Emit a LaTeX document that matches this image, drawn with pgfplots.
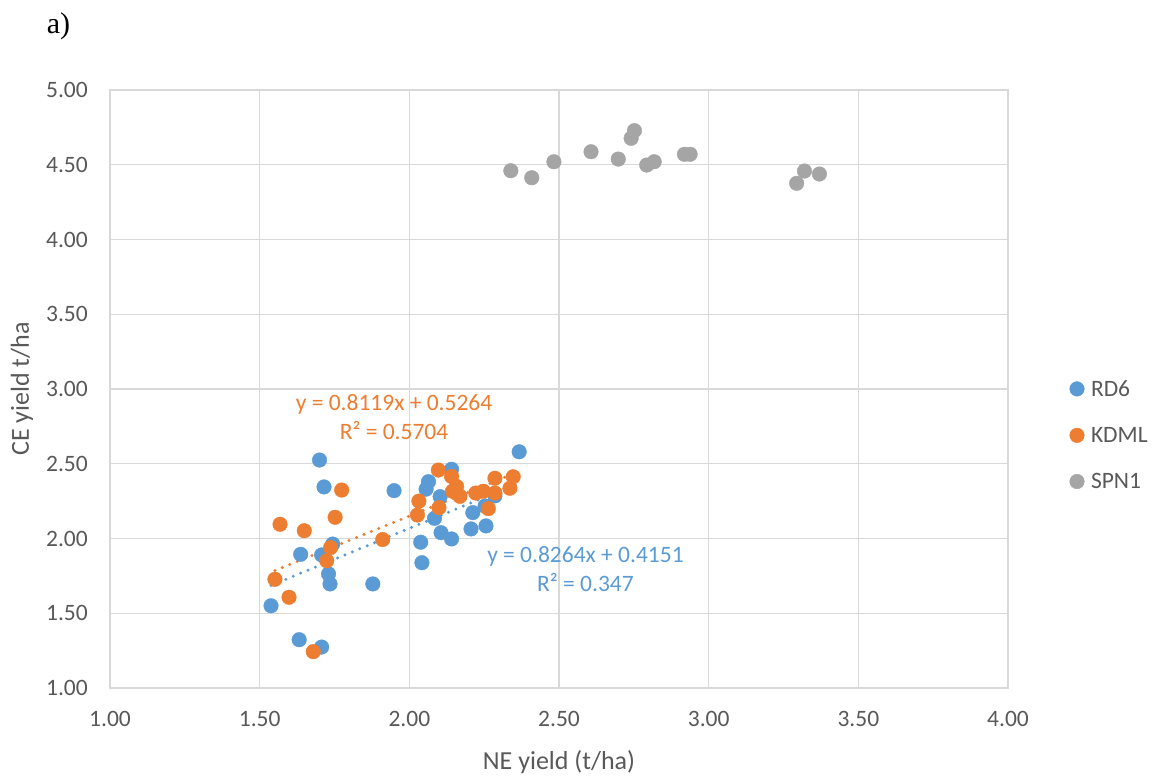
\documentclass[border=0pt]{standalone}
\usepackage{fontspec}
\setmainfont{Carlito}
\newfontfamily\timesfont{Liberation Serif}
\usepackage{pgfplots}
\pgfplotsset{compat=1.18}
\definecolor{cblue}{HTML}{5B9BD5}
\definecolor{corange}{HTML}{ED7D31}
\definecolor{cgray}{HTML}{A5A5A5}
\definecolor{ctext}{HTML}{595959}
\definecolor{cgrid}{HTML}{D9D9D9}
\begin{document}
\begin{tikzpicture}[x=1pt,y=1pt]
\path[use as bounding box] (-110,-88) rectangle (1046,688);
\begin{axis}[
  at={(0,0)}, anchor=south west,
  scale only axis, width=898pt, height=598pt,
  xmin=1, xmax=4, ymin=1, ymax=5,
  xtick={1,1.5,...,4}, ytick={1,1.5,...,5},
  grid=major, major grid style={cgrid, line width=1.2pt},
  axis line style={cgrid, line width=1.2pt},
  major tick length=0pt,
  tick label style={font=\fontsize{23.5}{28}\selectfont, text=ctext, inner sep=0pt},
  /pgf/number format/assume math mode=true,
  /pgf/number format/.cd, fixed, fixed zerofill, precision=2, /pgfplots/.cd,
  xticklabel style={anchor=north, yshift=-23pt},
  yticklabel style={anchor=east, xshift=-22pt},
  xlabel={NE yield (t/ha)}, ylabel={CE yield t/ha},
  every axis x label/.style={at={(axis description cs:0.5,-0.1237)}, anchor=center, font=\fontsize{26}{30}\selectfont, text=ctext},
  every axis y label/.style={at={(axis description cs:-0.098,0.5)}, rotate=90, anchor=center, font=\fontsize{26}{30}\selectfont, text=ctext},
  legend style={at={(axis description cs:1.0685,0.4230)}, anchor=west, draw=none, fill=none, inner sep=0pt,
    row sep=29.5pt, font=\fontsize{23.5}{28}\selectfont, text=ctext, nodes={inner sep=0pt}},
  legend cell align=left,
  legend image code/.code={\path[draw=none,fill=none] (0pt,-1pt) rectangle (21.3pt,1pt); \draw[#1] plot coordinates {(7.3pt,0pt)};},
  clip=false,
]
\addplot[only marks, mark=*, mark size=7.3pt, draw=cblue, fill=cblue, mark options={draw=cblue, fill=cblue}] coordinates {
(1.538,1.550) (1.632,1.323) (1.707,1.274) (1.637,1.894) (1.707,1.890)
(1.744,1.963) (1.730,1.763) (1.735,1.696) (1.878,1.696) (1.700,2.525)
(1.715,2.345) (1.949,2.320) (2.038,1.975) (2.042,1.838) (2.064,2.380)
(2.056,2.330) (2.103,2.280) (2.084,2.135) (2.106,2.039) (2.141,1.997)
(2.141,2.463) (2.212,2.173) (2.206,2.064) (2.256,2.084) (2.367,2.580)
(2.286,2.285) (2.253,2.217)
};
\addlegendentry{RD6}
\addplot[only marks, mark=*, mark size=7.3pt, draw=corange, fill=corange, mark options={draw=corange, fill=corange}] coordinates {
(1.568,2.095) (1.649,2.052) (1.774,2.324) (1.752,2.142) (1.737,1.939)
(1.724,1.851) (1.551,1.727) (1.598,1.607) (1.679,1.243) (1.911,1.993)
(2.032,2.250) (2.027,2.157) (2.097,2.458) (2.099,2.206) (2.141,2.415)
(2.158,2.348) (2.144,2.316) (2.169,2.282) (2.222,2.304) (2.247,2.316)
(2.286,2.403) (2.264,2.200) (2.286,2.304) (2.347,2.413) (2.336,2.336)
};
\addlegendentry{KDML}
\addplot[only marks, mark=*, mark size=7.3pt, draw=cgray, fill=cgray, mark options={draw=cgray, fill=cgray}] coordinates {
(2.339,4.460) (2.409,4.413) (2.483,4.520) (2.607,4.587) (2.698,4.538)
(2.741,4.677) (2.752,4.728) (2.793,4.498) (2.818,4.520) (2.919,4.570)
(2.938,4.570) (3.294,4.376) (3.320,4.458) (3.370,4.438)
};
\addlegendentry{SPN1}
\addplot[forget plot, cblue, line width=3.3pt, line cap=round, dash pattern=on 0pt off 8pt] coordinates {(1.538,1.6861) (2.367,2.3712)};
\addplot[forget plot, corange, line width=3.3pt, line cap=round, dash pattern=on 0pt off 8pt] coordinates {(1.551,1.7857) (2.347,2.4319)};
\node[text=corange, align=center, font=\fontsize{23.5}{29}\selectfont] at (axis cs:1.949,2.809) {y = 0.8119x + 0.5264\\R² = 0.5704};
\node[text=cblue, align=center, font=\fontsize{23.5}{29}\selectfont] at (axis cs:2.5885,1.796) {y = 0.8264x + 0.4151\\R² = 0.347};
\node[anchor=north west, inner sep=0pt, font=\timesfont\fontsize{30}{34}\selectfont] at (axis description cs:-0.0705,1.1304) {a)};
\end{axis}
\end{tikzpicture}
\end{document}
